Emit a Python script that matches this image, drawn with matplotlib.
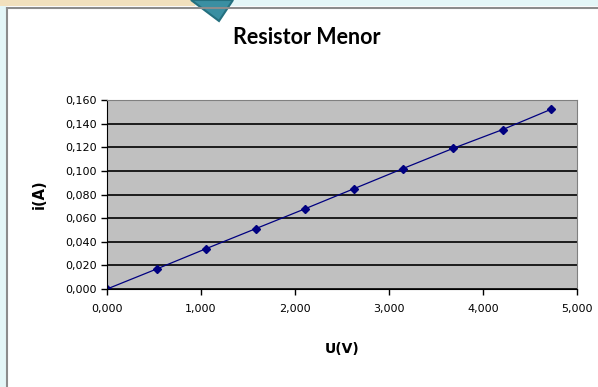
import matplotlib.pyplot as plt
from matplotlib.patches import Rectangle, Polygon
from matplotlib.lines import Line2D
from matplotlib.ticker import FuncFormatter

# Measured voltage (V) and current (A)
U = [0.000, 0.530, 1.050, 1.580, 2.110, 2.630, 3.150, 3.680, 4.210, 4.720]
i = [0.000, 0.017, 0.034, 0.051, 0.068, 0.085, 0.102, 0.119, 0.135, 0.152]

x_ticks = [0, 1, 2, 3, 4, 5]
y_ticks = [0.00, 0.02, 0.04, 0.06, 0.08, 0.10, 0.12, 0.14, 0.16]

W, H = 598, 387
fig = plt.figure(figsize=(W / 100, H / 100), dpi=100)


def px(x, y):
    return (x / W, 1 - y / H)


# Slide decorations around the chart
fig.add_artist(Rectangle(px(0, 6), 195 / W, 6 / H, transform=fig.transFigure,
                         color="#f1e0bd", lw=0))
fig.add_artist(Rectangle(px(195, 6), (W - 195) / W, 6 / H, transform=fig.transFigure,
                         color="#e4f6f7", lw=0))
fig.add_artist(Rectangle(px(0, H), 6 / W, (H - 6) / H, transform=fig.transFigure,
                         color="#e4f6f7", lw=0))
fig.add_artist(Line2D([px(7, 8)[0], 1], [px(7, 8)[1]] * 2, transform=fig.transFigure,
                      color="#8c8c8c", lw=1.5))
fig.add_artist(Line2D([px(7, 8)[0]] * 2, [px(7, 8)[1], 0], transform=fig.transFigure,
                      color="#8c8c8c", lw=1.5))
fig.add_artist(Polygon([px(191, 0), px(233, 0), px(219, 21)], closed=True,
                       transform=fig.transFigure, facecolor="#3a8fa2",
                       edgecolor="#24707f", lw=1.5))

ax = fig.add_axes([107 / W, 1 - 289 / H, 470 / W, 189 / H])
ax.set_facecolor("#c0c0c0")
ax.plot(U, i, color="#000080", lw=0.9, marker="D", markersize=4,
        markerfacecolor="#000080", markeredgecolor="#000080")

ax.set_xlim(0, 5)
ax.set_ylim(0, 0.16)
ax.set_xticks(x_ticks)
ax.set_yticks(y_ticks)
fmt = FuncFormatter(lambda v, pos: f"{v:.3f}".replace(".", ","))
ax.xaxis.set_major_formatter(fmt)
ax.yaxis.set_major_formatter(fmt)
ax.tick_params(labelsize=8, length=4, width=1, color="black")
ax.tick_params(axis="x", pad=7)
ax.grid(axis="y", color="black", lw=1.2)
ax.set_axisbelow(True)

for side in ["top", "right"]:
    ax.spines[side].set_color("#808080")
for side in ["left", "bottom"]:
    ax.spines[side].set_color("black")

fig.text(307 / W, 1 - 37 / H, "Resistor Menor", ha="center", va="center",
         fontsize=15.5, fontweight="bold", family="Lato")
ax.set_xlabel("U(V)", fontsize=10, fontweight="bold", labelpad=20)
ax.set_ylabel("i(A)", fontsize=10.5, fontweight="bold", labelpad=13)

fig.savefig("out.png", dpi=100)
